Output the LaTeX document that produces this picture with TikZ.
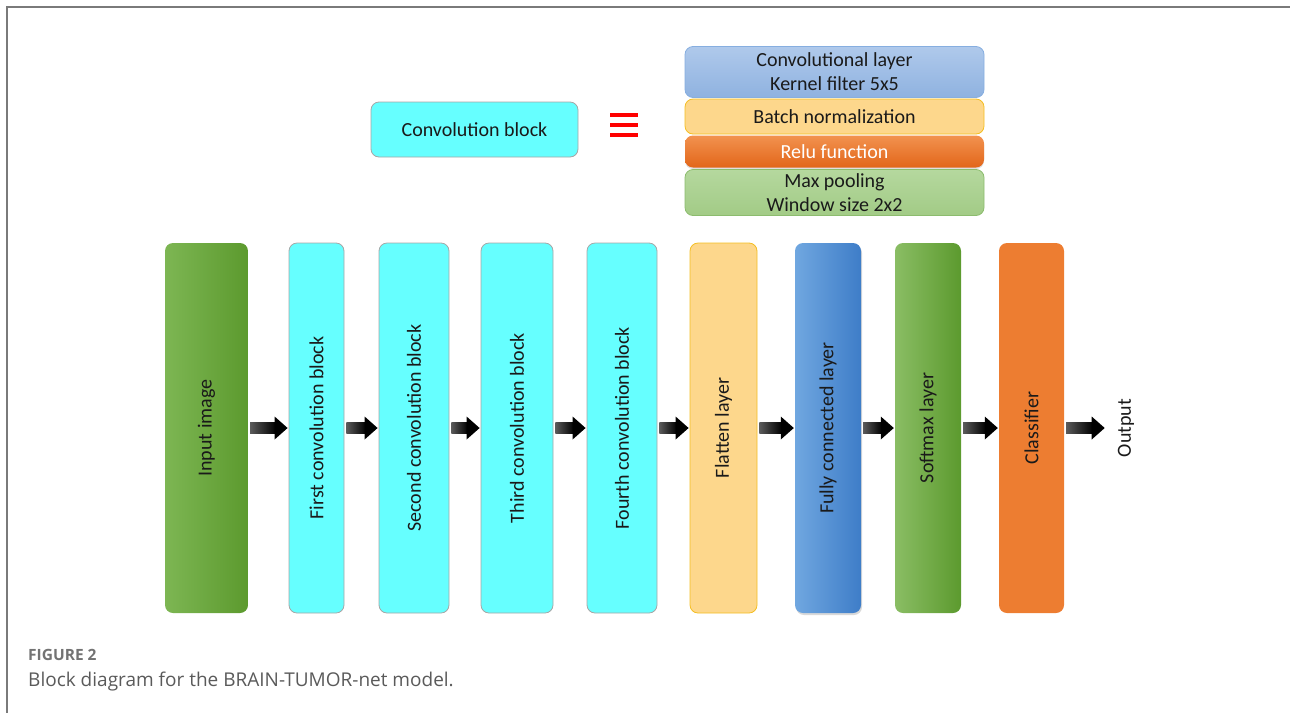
\documentclass[tikz,border=0pt]{standalone}
\usepackage{fontspec}
\usepackage{graphicx}
\setmainfont{Carlito}
\newfontfamily\capfont{Open Sans}
\usetikzlibrary{calc,shadows}
\definecolor{cyanbox}{HTML}{66FFFF}
\definecolor{cyanedge}{HTML}{A6A6A6}
\definecolor{gLeft}{HTML}{7DB653}
\definecolor{gRight}{HTML}{5C9A2E}
\definecolor{bLeft}{HTML}{70A7E0}
\definecolor{bRight}{HTML}{3E7DC8}
\definecolor{flatfill}{HTML}{FDD78C}
\definecolor{flatedge}{HTML}{F4BE22}
\definecolor{clsfill}{HTML}{ED7D31}
\definecolor{convTop}{HTML}{AFC9EB}
\definecolor{convBot}{HTML}{8FB2E0}
\definecolor{convEdge}{HTML}{86AEE0}
\definecolor{reluTop}{HTML}{F2924F}
\definecolor{reluBot}{HTML}{E2661A}
\definecolor{mpTop}{HTML}{B5D89E}
\definecolor{mpBot}{HTML}{A2CB86}
\definecolor{mpEdge}{HTML}{8CBC6E}
\definecolor{txt}{HTML}{1A1A1A}
\definecolor{framegray}{HTML}{7A7A7A}
\definecolor{capgray}{HTML}{5A5A5A}
\definecolor{arrgray}{HTML}{5A5A5A}
\newcommand\blockarrow[2]{%
  \path let \p1=($(#1)+(2,0)$), \p2=($(#2)+(-1,0)$) in
    [left color=arrgray, right color=black, draw=none]
    (\x1,\y1-5.5pt) rectangle (\x2-12pt,\y1+5.5pt);
  \path let \p1=($(#1)+(2,0)$), \p2=($(#2)+(-1,0)$) in
    [fill=black]
    (\x2-13pt,\y1-11.5pt) -- (\x2,\y1) -- (\x2-13pt,\y1+11.5pt) -- cycle;
}
\begin{document}
\begin{tikzpicture}[x=1pt,y=-1pt,
  every node/.style={text=txt, font=\fontsize{20}{24}\selectfont},
  tall/.style={rounded corners=8pt, minimum height=370, inner sep=0pt},
  cyanblk/.style={tall, fill=cyanbox, draw=cyanedge, line width=0.8pt},
  layer/.style={rounded corners=8pt, minimum width=299, inner sep=0pt, align=center, font=\fontsize{20}{24}\selectfont},
  frameline/.style={draw=framegray, line width=1.6pt}
]
\useasboundingbox (0,0) rectangle (1290,713);
\draw[frameline] (1290,7) -- (7,7) -- (7,713);

% top legend
\node[rounded corners=8pt, fill=cyanbox, draw=cyanedge, line width=0.8pt,
      minimum width=207, minimum height=55] (cb) at (474.5,129.5) {Convolution block};
\fill[red] (610,113) rectangle (638,117);
\fill[red] (610,123) rectangle (638,127);
\fill[red] (610,133) rectangle (638,137);

\node[layer, top color=convTop, bottom color=convBot, draw=convEdge, line width=0.8pt,
      minimum height=51] (conv) at (834.5,72) {Convolutional layer\\Kernel filter 5x5};
\node[layer, fill=flatfill, draw=flatedge, line width=0.8pt,
      minimum height=35] (bn) at (834.5,116.5) {Batch normalization};
\node[layer, top color=reluTop, bottom color=reluBot, text=white,
      drop shadow={opacity=0.25, shadow xshift=0pt, shadow yshift=-1.5pt},
      minimum height=32] (relu) at (834.5,151.5) {Relu function};
\node[layer, top color=mpTop, bottom color=mpBot, draw=mpEdge, line width=0.8pt,
      minimum height=46] (mp) at (834.5,192.5) {Max pooling\\Window size 2x2};

% main chain
\node[tall, left color=gLeft, right color=gRight, minimum width=83] (in) at (206.5,428) {\rotatebox{90}{Input image}};
\node[cyanblk, minimum width=55] (c1) at (316.5,428) {\rotatebox{90}{First convolution block}};
\node[cyanblk, minimum width=70] (c2) at (414,428) {\rotatebox{90}{Second convolution block}};
\node[cyanblk, minimum width=72] (c3) at (517,428) {\rotatebox{90}{Third convolution block}};
\node[cyanblk, minimum width=70] (c4) at (622,428) {\rotatebox{90}{Fourth convolution block}};
\node[tall, fill=flatfill, draw=flatedge, line width=0.8pt, minimum width=67] (fl) at (723.5,428) {\rotatebox{90}{Flatten layer}};
\node[tall, left color=bLeft, right color=bRight, minimum width=66,
      drop shadow={opacity=0.3, shadow xshift=1pt, shadow yshift=-2pt}] (fc) at (828,428) {\rotatebox{90}{Fully connected layer}};
\node[tall, left color=gLeft!90!white, right color=gRight, minimum width=66] (sm) at (928,428) {\rotatebox{90}{Softmax layer}};
\node[tall, fill=clsfill, minimum width=65] (cl) at (1031.5,428) {\rotatebox{90}{Classifier}};
\node[inner sep=0pt] (out) at (1126,428) {\rotatebox{90}{Output}};
\coordinate (outtip) at ($(out.west)+(-12,0)$);

\blockarrow{in.east}{c1.west}
\blockarrow{c1.east}{c2.west}
\blockarrow{c2.east}{c3.west}
\blockarrow{c3.east}{c4.west}
\blockarrow{c4.east}{fl.west}
\blockarrow{fl.east}{fc.west}
\blockarrow{fc.east}{sm.west}
\blockarrow{sm.east}{cl.west}
\blockarrow{cl.east}{outtip}

% caption
\node[anchor=base west, inner sep=0pt, text=capgray!85!white,
      font=\capfont\bfseries\fontsize{15.5}{18}\selectfont] (fig) at (28,660) {FIGURE 2};
\node[anchor=base west, inner sep=0pt, text=capgray,
      font=\capfont\fontsize{19}{22}\selectfont] (capt) at (28,686) {Block diagram for the BRAIN-TUMOR-net model.};
\end{tikzpicture}
\end{document}
